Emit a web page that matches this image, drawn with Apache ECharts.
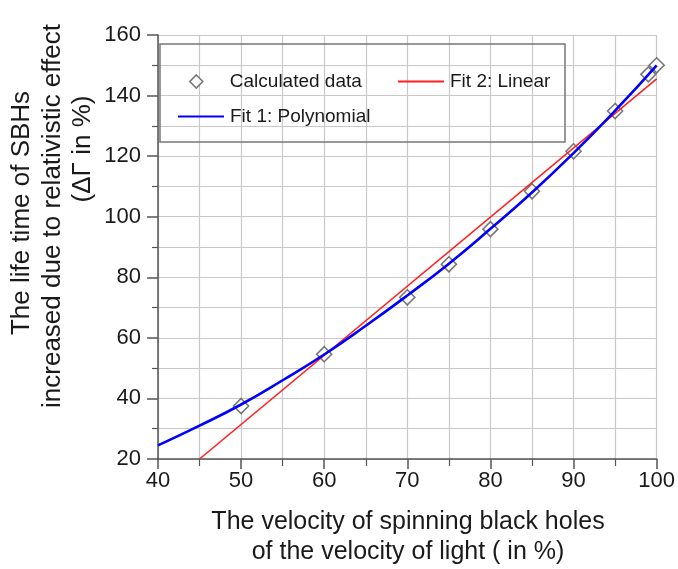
<!DOCTYPE html>
<html><head><meta charset="utf-8">
<script src="https://cdn.jsdelivr.net/npm/echarts@6/dist/echarts.min.js"></script>
<style>html,body{margin:0;padding:0;background:#fff}#c{width:678px;height:569px}</style>
</head><body><div id="c"></div>
<script>
// Data
const calcX = [50, 60, 70, 75, 80, 85, 90, 95, 99, 100];
const calcY = [37.5, 54.6, 73.4, 84.3, 95.9, 108.4, 121.6, 134.9, 147, 150];
const polyX = [40, 45, 50, 55, 60, 65, 70, 75, 80, 85, 90, 95, 100];
const polyY = [24.5, 31, 38, 46, 54.5, 64, 74, 84.5, 96, 108, 121, 135, 150];
const linX = [45, 100];
const linY = [20, 145.5];
const xTicks = [40, 50, 60, 70, 80, 90, 100];
const yTicks = [20, 40, 60, 80, 100, 120, 140, 160];

const FONT = 'Liberation Sans, Arial, sans-serif';
const zip = (a, b) => a.map((v, i) => [v, b[i]]);

const chart = echarts.init(document.getElementById('c'), null, {renderer: 'canvas'});
const axisCommon = {
  type: 'value',
  axisLine: {show: true, onZero: false, lineStyle: {color: '#555', width: 1.5}},
  axisTick: {show: true, inside: false, lineStyle: {color: '#555', width: 1.5}},
  minorTick: {show: true, splitNumber: 2, lineStyle: {color: '#555', width: 1.2}},
  splitLine: {show: true, lineStyle: {color: '#c8c8c8', width: 1.2}},
  minorSplitLine: {show: true, lineStyle: {color: '#c8c8c8', width: 1.2}},
  axisLabel: {color: '#1a1a1a', fontFamily: FONT, fontSize: 22}
};
const legendText = (pad) => ({color: '#1a1a1a', fontFamily: FONT, fontSize: 19, padding: [0, 0, 0, pad]});
const hiddenSym = {opacity: 0};
chart.setOption({
  animation: false,
  grid: {left: 158, right: 20, top: 35, bottom: 110, containLabel: false},
  xAxis: Object.assign({}, axisCommon, {
    min: xTicks[0], max: xTicks[xTicks.length - 1], interval: 10,
    axisTick: Object.assign({}, axisCommon.axisTick, {length: 10}),
    minorTick: Object.assign({}, axisCommon.minorTick, {length: 7}),
    axisLabel: Object.assign({}, axisCommon.axisLabel, {margin: 11})
  }),
  yAxis: Object.assign({}, axisCommon, {
    min: yTicks[0], max: yTicks[yTicks.length - 1], interval: 20,
    axisTick: Object.assign({}, axisCommon.axisTick, {length: 11}),
    minorTick: Object.assign({}, axisCommon.minorTick, {length: 6}),
    axisLabel: Object.assign({}, axisCommon.axisLabel, {margin: 17})
  }),
  legend: [
    {
      data: [{name: 'Calculated data', icon: 'diamond'}],
      left: 184, top: 67,
      itemWidth: 13, itemHeight: 13, selectedMode: false,
      itemStyle: {color: '#fff', borderColor: '#555', borderWidth: 1.6},
      textStyle: legendText(22)
    },
    {
      data: [{name: 'Fit 2: Linear', itemStyle: hiddenSym}],
      left: 392, top: 67,
      itemWidth: 46, itemHeight: 13, selectedMode: false,
      textStyle: legendText(1)
    },
    {
      data: [{name: 'Fit 1: Polynomial', itemStyle: hiddenSym}],
      left: 172, top: 102,
      itemWidth: 46, itemHeight: 13, selectedMode: false,
      textStyle: legendText(1)
    }
  ],
  graphic: [
    {type: 'rect', shape: {x: 160, y: 44, width: 405, height: 98},
     style: {fill: 'none', stroke: '#777', lineWidth: 1.5}, z: 5},
    {type: 'text', x: 408, y: 522, style: {text: 'The velocity of spinning black holes', font: '25px ' + FONT, fill: '#1a1a1a', align: 'center', verticalAlign: 'middle'}},
    {type: 'text', x: 408, y: 552, style: {text: 'of the velocity of light ( in %)', font: '25px ' + FONT, fill: '#1a1a1a', align: 'center', verticalAlign: 'middle'}},
    {type: 'text', x: 22, y: 213, rotation: Math.PI / 2, style: {text: 'The life time of SBHs', font: '26px ' + FONT, fill: '#1a1a1a', align: 'center', verticalAlign: 'middle'}},
    {type: 'text', x: 53, y: 216, rotation: Math.PI / 2, style: {text: 'increased due to relativistic effect', font: '26px ' + FONT, fill: '#1a1a1a', align: 'center', verticalAlign: 'middle'}},
    {type: 'text', x: 83, y: 149, rotation: Math.PI / 2, style: {text: '(ΔΓ in %)', font: '26px ' + FONT, fill: '#1a1a1a', align: 'center', verticalAlign: 'middle'}}
  ],
  series: [
    {
      name: 'Calculated data', type: 'scatter', data: zip(calcX, calcY),
      symbol: 'diamond', symbolSize: 15, z: 2,
      itemStyle: {color: '#fff', borderColor: '#555', borderWidth: 1.6}
    },
    {
      name: 'Fit 2: Linear', type: 'line', data: zip(linX, linY),
      showSymbol: false, symbol: 'none', z: 3,
      lineStyle: {color: '#ff2020', width: 1.6}, itemStyle: {color: '#ff2020'}
    },
    {
      name: 'Fit 1: Polynomial', type: 'line', data: zip(polyX, polyY), smooth: true,
      showSymbol: false, symbol: 'none', z: 4,
      lineStyle: {color: '#0000ff', width: 2.6}, itemStyle: {color: '#0000ff'}
    }
  ]
});
</script></body></html>
